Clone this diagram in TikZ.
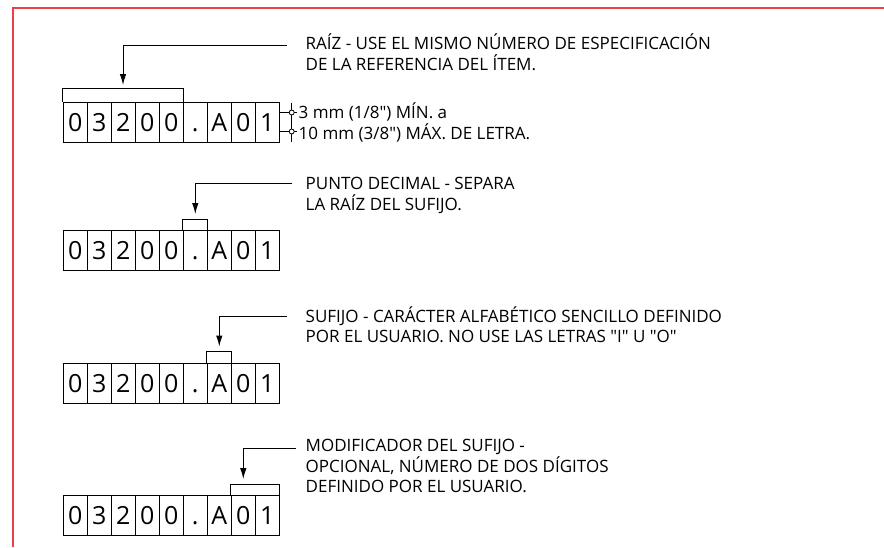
\documentclass[tikz,border=0pt]{standalone}
\usepackage{fontspec}
\setmainfont{Open Sans}[Ligatures=TeXOff]
\usetikzlibrary{arrows.meta}
\definecolor{framered}{RGB}{236,64,72}
\begin{document}
\begin{tikzpicture}[x=1pt,y=-1pt,
  cellbox/.style={draw, line width=1pt, minimum width=24pt, minimum height=40pt,
    inner sep=0pt, anchor=north west, font=\fontsize{25}{25}\selectfont,
    text height=18pt, text depth=0pt},
  lbl/.style={anchor=base west, inner sep=0pt, font=\fontsize{17}{20}\selectfont},
  leader/.style={line width=1pt, -{Latex[length=11pt,width=6.5pt]}},
  brk/.style={line width=1pt},
  dimline/.style={line width=0.8pt},
  dimdot/.style={draw, line width=0.8pt, fill=white, circle, inner sep=0pt, minimum size=5pt},
]
\useasboundingbox (0,0) rectangle (884,547);
\draw[framered, line width=1.8pt] (13,547) -- (13,8) -- (884,8);

% character cells
\foreach \r/\B in {1/101.7,2/230,3/362.5,4/495} {
  \foreach \ch [count=\i] in {0,3,2,0,0,.,A,0,1} {
    \node[cellbox] (r\r-\i) at ({62.7+24*(\i-1)},\B) {\ch};
  }
}

% brackets
\draw[brk] (r1-1.north west) -- ++(0,-13.4) -| (r1-5.north east);
\draw[brk] (r2-6.north west) -- ++(0,-11) -| (r2-6.north east);
\draw[brk] (r3-7.north west) -- ++(0,-11) -| (r3-7.north east);
\draw[brk] (r4-8.north west) -- ++(0,-11) -| (r4-9.north east);

% leader start points and arrow tips
\coordinate (k1) at (287,45.5);   \coordinate (p1) at (123,85);
\coordinate (k2) at (292,183.8);  \coordinate (p2) at (195.3,214);
\coordinate (k3) at (287,316.3);  \coordinate (p3) at (219.3,346.5);
\coordinate (k4) at (296,448.8);  \coordinate (p4) at (243.3,479);
\draw[leader] (k1) -| (p1);
\draw[leader] (k2) -| (p2);
\draw[leader] (k3) -| (p3);
\draw[leader] (k4) -| (p4);

% labels
\node[lbl] (t1a) at (305.5,49.6) {RAÍZ - USE EL MISMO NÚMERO DE ESPECIFICACIÓN};
\node[lbl] (t1b) at (305.5,70.1) {DE LA REFERENCIA DEL ÍTEM.};
\node[lbl] (t2a) at (305.5,189.9) {PUNTO DECIMAL - SEPARA};
\node[lbl] (t2b) at (305.5,210.4) {LA RAÍZ DEL SUFIJO.};
\node[lbl] (t3a) at (305.5,322.4) {SUFIJO - CARÁCTER ALFABÉTICO SENCILLO DEFINIDO};
\node[lbl] (t3b) at (305.5,342.9) {POR EL USUARIO. NO USE LAS LETRAS "I" U "O"};
\node[lbl] (t4a) at (305.5,451.9) {MODIFICADOR DEL SUFIJO -};
\node[lbl] (t4b) at (305.5,472.4) {OPCIONAL, NÚMERO DE DOS DÍGITOS};
\node[lbl] (t4c) at (305.5,492.9) {DEFINIDO POR EL USUARIO.};

% letter height dimension
\coordinate (d1) at (291.7,112.5);
\coordinate (d2) at (291.7,131.5);
\draw[dimline] (r1-9.north east |- d1) -- (297,112.5);
\draw[dimline] (r1-9.north east |- d2) -- (297,131.5);
\draw[dimline] (291.7,102.7) -- (291.7,141.7);
\node[dimdot] (c1) at (d1) {};
\node[dimdot] (c2) at (d2) {};
\node[lbl] (m1) at (298.5,118.6) {3 mm (1/8") MÍN. a};
\node[lbl] (m2) at (298.5,139.6) {10 mm (3/8") MÁX. DE LETRA.};
\end{tikzpicture}
\end{document}
